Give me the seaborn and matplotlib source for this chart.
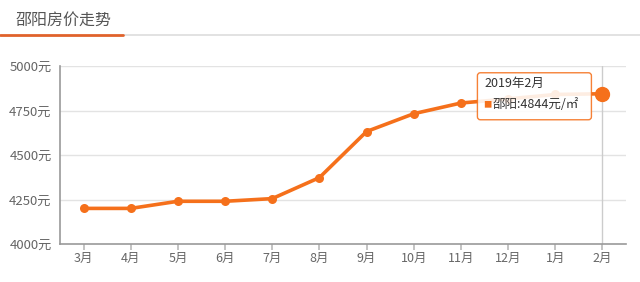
import matplotlib
matplotlib.use("Agg")
import matplotlib.pyplot as plt
import seaborn as sns
import pandas as pd
from matplotlib.patches import FancyBboxPatch
from matplotlib.lines import Line2D

months = ["3月", "4月", "5月", "6月", "7月", "8月", "9月", "10月", "11月", "12月", "1月", "2月"]
prices = [4200, 4200, 4240, 4240, 4255, 4373, 4632, 4732, 4792, 4815, 4840, 4844]
y_ticks = [4000, 4250, 4500, 4750, 5000]
y_labels = [f"{v}元" for v in y_ticks]
title = "邵阳房价走势"
tip_title = "2019年2月"
tip_text = "邵阳:4844元/㎡"

sns.set_theme(style="white")
plt.rcParams['font.family'] = ['Noto Sans CJK SC', 'DejaVu Sans']

ORANGE = "#f5701b"
GRID = "#e3e3e3"
TXT = "#666666"

df = pd.DataFrame({"month": months, "price": prices, "idx": range(len(months))})

fig = plt.figure(figsize=(6.4, 2.82), dpi=100)
ax = fig.add_axes([60/640, 1-244/282, 566/640, 178/282])

for v in y_ticks[1:]:
    ax.axhline(v, color=GRID, lw=1, zorder=0)
ax.axvline(len(months)-1, color="#cccccc", lw=1, zorder=0)

sns.lineplot(data=df, x="idx", y="price", ax=ax, color=ORANGE, lw=2.6,
             marker="o", markersize=6.5, markeredgewidth=0, zorder=3)
last = df.iloc[-1]
ax.plot([last.idx], [last.price], "o", color=ORANGE, markersize=10, zorder=4)

ax.set_xlim(-0.5, len(months)-0.5)
ax.set_ylim(4000, 5000)
ax.set_xticks(range(len(months)))
ax.set_xticklabels(months, fontsize=9, color=TXT)
ax.set_yticks(y_ticks)
ax.set_yticklabels(y_labels, fontsize=9.5, color=TXT)
ax.set_xlabel("")
ax.set_ylabel("")
for s in ["top", "right"]:
    ax.spines[s].set_visible(False)
ax.spines["left"].set_color("#999999")
ax.spines["bottom"].set_color("#999999")
ax.spines["left"].set_linewidth(1.2)
ax.spines["bottom"].set_linewidth(1.2)
ax.tick_params(axis="x", length=4, color="#bbbbbb", pad=2, bottom=True)
ax.tick_params(axis="y", length=0, pad=6)

# tooltip
fig.canvas.draw()
px, py = ax.transData.transform((last.idx, last.price))
box = FancyBboxPatch((px-125, py-26), 114, 47,
                     boxstyle="round,pad=0,rounding_size=3",
                     transform=None, facecolor="white", alpha=0.88,
                     edgecolor=ORANGE, lw=1.0, zorder=10)
fig.add_artist(box)
fig.text((px-118)/640, (py+10)/282, tip_title, fontsize=9, color="#333333",
         va="center", ha="left", zorder=11)
fig.text((px-119)/640, (py-11)/282, "■", fontsize=6, color=ORANGE,
         va="center", ha="left", zorder=11)
fig.text((px-110)/640, (py-11)/282, tip_text, fontsize=9, color="#333333",
         va="center", ha="left", zorder=11)

# title + underline
fig.text(16/640, 1-20/282, title, fontsize=11.5, color="#555555",
         va="center", ha="left")
fig.add_artist(Line2D([123/640, 1], [1-35/282, 1-35/282], color="#dddddd", lw=1.2))
fig.add_artist(Line2D([0, 123/640], [1-35/282, 1-35/282], color="#e0622b", lw=2))

fig.savefig("out.png", dpi=100, facecolor="white")
